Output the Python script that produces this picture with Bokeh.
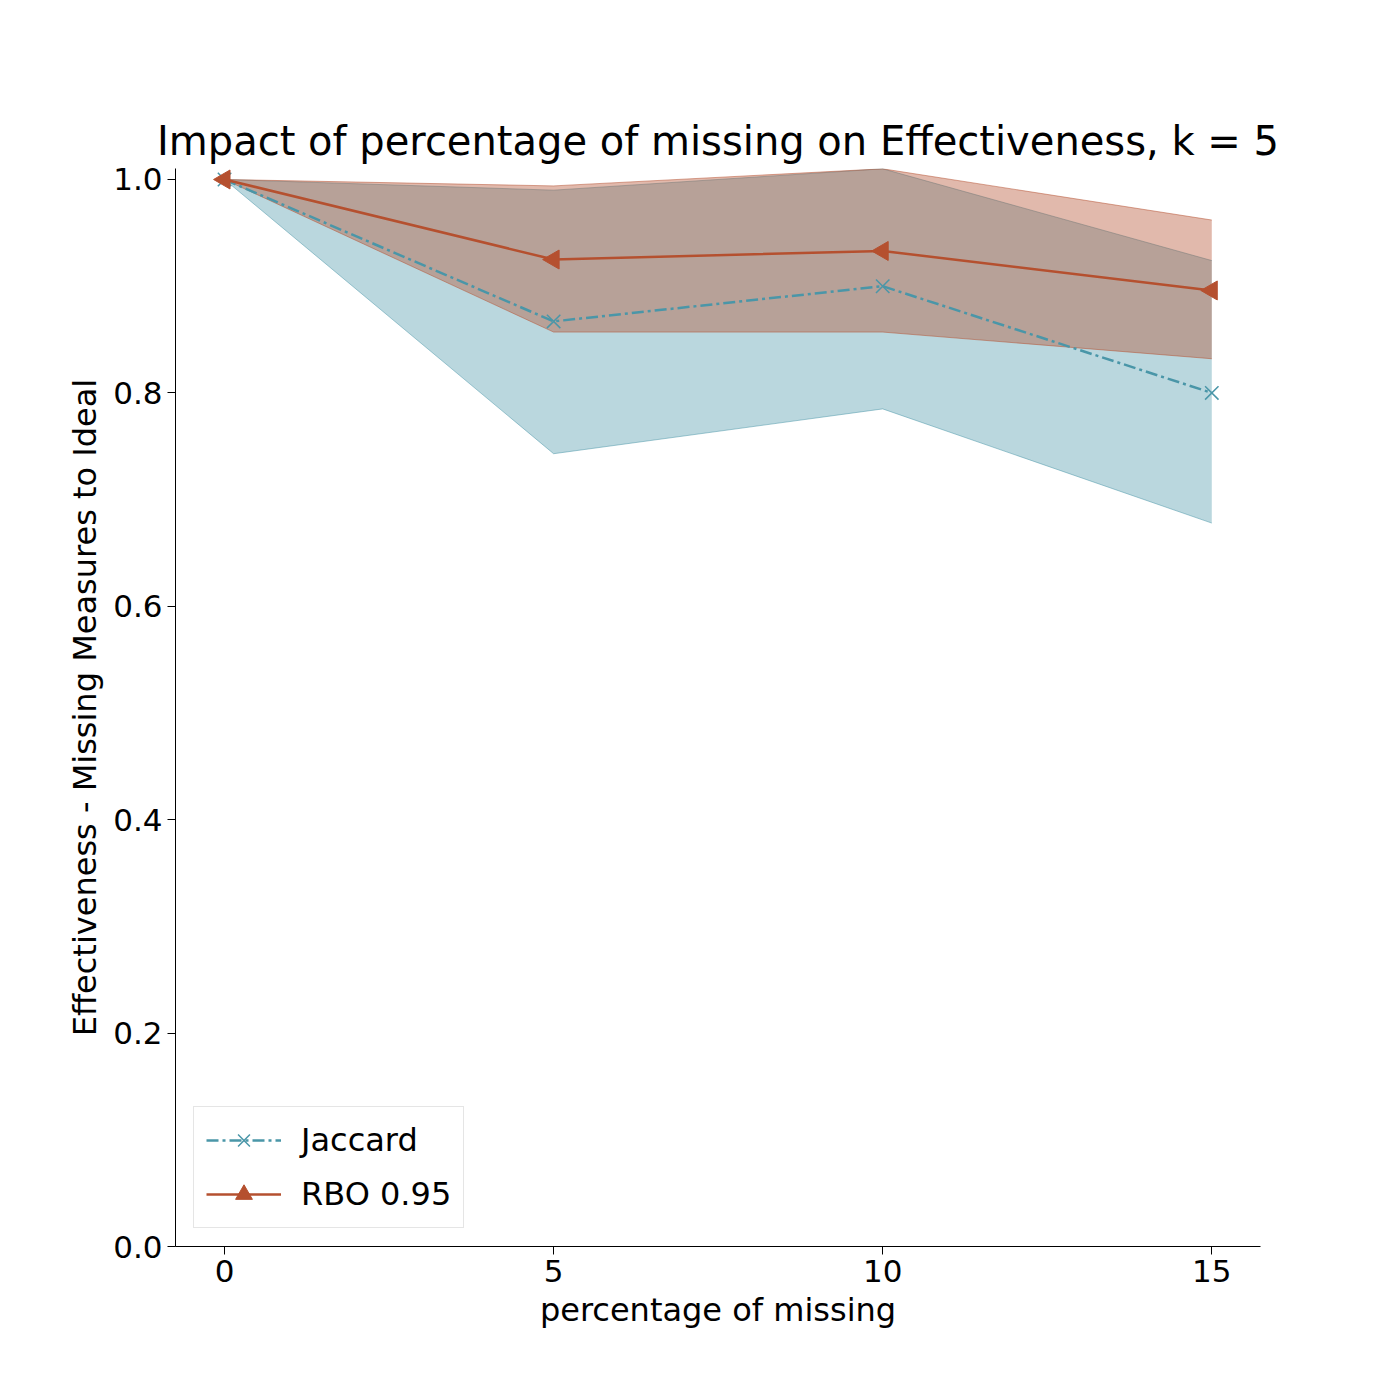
import numpy as np
from bokeh.plotting import figure
from bokeh.models import Range1d, Legend, LegendItem, FixedTicker, CustomJSTickFormatter
from bokeh.embed import file_html
from bokeh.resources import INLINE

x = [0, 5, 10, 15]
jac = [1.0, 0.867, 0.900, 0.800]
jac_hi = [1.0, 0.990, 1.010, 0.924]
jac_lo = [1.0, 0.743, 0.785, 0.678]
rbo = [1.0, 0.925, 0.933, 0.896]
rbo_hi = [1.0, 0.994, 1.010, 0.962]
rbo_lo = [1.0, 0.857, 0.857, 0.832]

CJ = "#4a96a8"
CR = "#b5502f"
F = "DejaVu Sans"

p = figure(width=1380, height=1380, output_backend="svg", toolbar_location=None,
           x_range=Range1d(-0.745, 15.74), y_range=Range1d(0, 1.0103),
           min_border_left=175, min_border_right=120, min_border_top=168, min_border_bottom=134)
p.title.text = "Impact of percentage of missing on Effectiveness, k = 5"
p.title.text_font = F
p.title.text_font_size = "40px"
p.title.text_font_style = "normal"
p.title.text_color = "black"
p.title.align = "center"
p.grid.visible = False
p.outline_line_color = None
for ax in (p.xaxis[0], p.yaxis[0]):
    ax.major_label_text_font = F
    ax.major_label_text_font_size = "31px"
    ax.major_label_text_color = "black"
    ax.axis_label_text_font = F
    ax.axis_label_text_font_size = "32px"
    ax.axis_label_text_color = "black"
    ax.axis_label_text_font_style = "normal"
    ax.minor_tick_line_color = None
    ax.major_tick_out = 8
    ax.major_tick_in = 0
    ax.axis_line_color = "black"
    ax.axis_label_standoff = 6
p.xaxis.ticker = FixedTicker(ticks=[0, 5, 10, 15])
p.yaxis.ticker = FixedTicker(ticks=[0, 0.2, 0.4, 0.6, 0.8, 1.0])
p.yaxis.formatter = CustomJSTickFormatter(code="return tick.toFixed(1);")
p.xaxis.axis_label = "percentage of missing"
p.yaxis.axis_label = "Effectiveness - Missing Measures to Ideal"

p.varea(x=x, y1=jac_lo, y2=jac_hi, fill_color=CJ, fill_alpha=0.38)
p.line(x=x, y=jac_hi, line_color=CJ, line_alpha=0.5)
p.line(x=x, y=jac_lo, line_color=CJ, line_alpha=0.5)
p.varea(x=x, y1=rbo_lo, y2=rbo_hi, fill_color=CR, fill_alpha=0.4)
p.line(x=x, y=rbo_hi, line_color=CR, line_alpha=0.5)
p.line(x=x, y=rbo_lo, line_color=CR, line_alpha=0.5)

lj = p.line(x=x, y=jac, line_color=CJ, line_width=2.5, line_dash="12 4 3 4")
sj = p.scatter(x=x, y=jac, marker="x", size=19, line_color=CJ, line_width=1.5)
lr = p.line(x=x, y=rbo, line_color=CR, line_width=2.5)
sr = p.scatter(x=x, y=rbo, marker="triangle", angle=np.pi / 2, size=19, fill_color=CR, line_color=CR)

leg = Legend(items=[LegendItem(label="Jaccard", renderers=[lj, sj]),
                    LegendItem(label="RBO 0.95", renderers=[lr, sr])],
             location="bottom_left")
leg.label_text_font = F
leg.label_text_font_size = "32px"
leg.label_text_color = "black"
leg.glyph_width = 75
leg.glyph_height = 42
leg.label_standoff = 20
leg.spacing = 12
leg.padding = 12
leg.margin = 18
leg.border_line_color = "#cccccc"
leg.border_line_width = 1.5
p.add_layout(leg)

open("out.html", "w").write(file_html(p, INLINE))
